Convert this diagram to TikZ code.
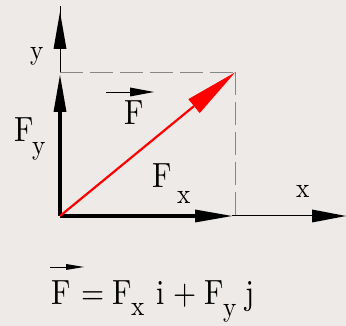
\documentclass[tikz,border=0pt]{standalone}
\usepackage{fontspec}
\usetikzlibrary{arrows.meta}
\newfontfamily\tenfont{lmroman10-regular.otf}
\definecolor{bg}{RGB}{237,234,231}
\definecolor{dashgray}{RGB}{135,135,135}
\newcommand{\bigtxt}[1]{\scalebox{0.85}[1]{\tenfont\fontsize{35}{40}\selectfont #1}}
\newcommand{\subtxt}[1]{\scalebox{0.9}[1]{\tenfont\fontsize{28}{32}\selectfont #1}}
\begin{document}
\begin{tikzpicture}[x=1pt,y=-1pt,
  lbl/.style={inner sep=0pt, anchor=base west},
  thinax/.style={line width=1pt, black},
  comp/.style={line width=3.5pt, black},
  guide/.style={dashgray, line width=1pt, dash pattern=on 23pt off 7pt},
  headA/.style={-{Triangle[length=37pt,width=13pt,line width=0pt]}},
  headB/.style={-{Triangle[length=34pt,width=13pt,line width=0pt]}},
  vecbar/.style={line width=0.8pt, black, -{Triangle[length=24pt,width=9pt,line width=0pt]}},
  vecbarsmall/.style={line width=0.8pt, black, -{Triangle[length=18pt,width=6pt,line width=0pt]}}]
\fill[bg] (0,0) rectangle (346,326);
\useasboundingbox (0,0) rectangle (346,326);
% points
\coordinate (O) at (60,216);
\coordinate (C) at (60,72.5);
\coordinate (P) at (235,72.5);
\coordinate (D) at (235,216);
\coordinate (ytop) at (60,6);
\coordinate (ytip) at (60,12);
\coordinate (fytip) at (60,75);
\coordinate (fxtip) at (232,216);
\coordinate (xtip) at (346,216);
% dashed guides
\draw[guide] (C) -- (P);
\draw[guide] (P) -- (D);
% y axis
\draw[thinax] (C) -- (ytop);
\draw[thinax, headA] (C) -- (ytip);
% x axis
\draw[thinax, headB] (fxtip) -- (xtip);
% components
\draw[comp, headA] (O) -- (fytip);
\draw[comp, headA] (O) -- (fxtip);
% resultant
\draw[red, line width=2.2pt, -{Triangle[length=53pt,width=18pt,line width=0pt]}] (O) -- (P);
% axis labels
\node[lbl] (ylab) at (30,60) {\subtxt{y}};
\node[lbl] (xlab) at (296,198) {\subtxt{x}};
% F vector label
\node[lbl] (Flab) at (124,125) {\bigtxt{F}};
\coordinate (Fa1) at (106,92);
\coordinate (Fa2) at (154,92);
\draw[vecbar] (Fa1) -- (Fa2);
% Fy label
\node[lbl] (Fylab) at (14,142) {\bigtxt{F}};
\node[lbl] (Fysub) at (32,155) {\subtxt{y}};
% Fx label
\node[lbl] (Fxlab) at (152,188) {\bigtxt{F}};
\node[lbl] (Fxsub) at (177,204) {\subtxt{x}};
% equation
\node[lbl] (eF) at (51,305) {\bigtxt{F}};
\coordinate (ea1) at (50,267);
\coordinate (ea2) at (84,267);
\draw[vecbarsmall] (ea1) -- (ea2);
\node[lbl] (eeq) at (81,305) {\bigtxt{=}};
\node[lbl] (eF2) at (112,305) {\bigtxt{F}};
\node[lbl] (ex) at (131,316) {\subtxt{x}};
\node[lbl] (ei) at (156,305) {\bigtxt{i}};
\node[lbl] (eplus) at (173,305) {\bigtxt{+}};
\node[lbl] (eF3) at (204,305) {\bigtxt{F}};
\node[lbl] (ey) at (223,317) {\subtxt{y}};
\node[lbl] (ej) at (245,305) {\bigtxt{j}};
\end{tikzpicture}
\end{document}
